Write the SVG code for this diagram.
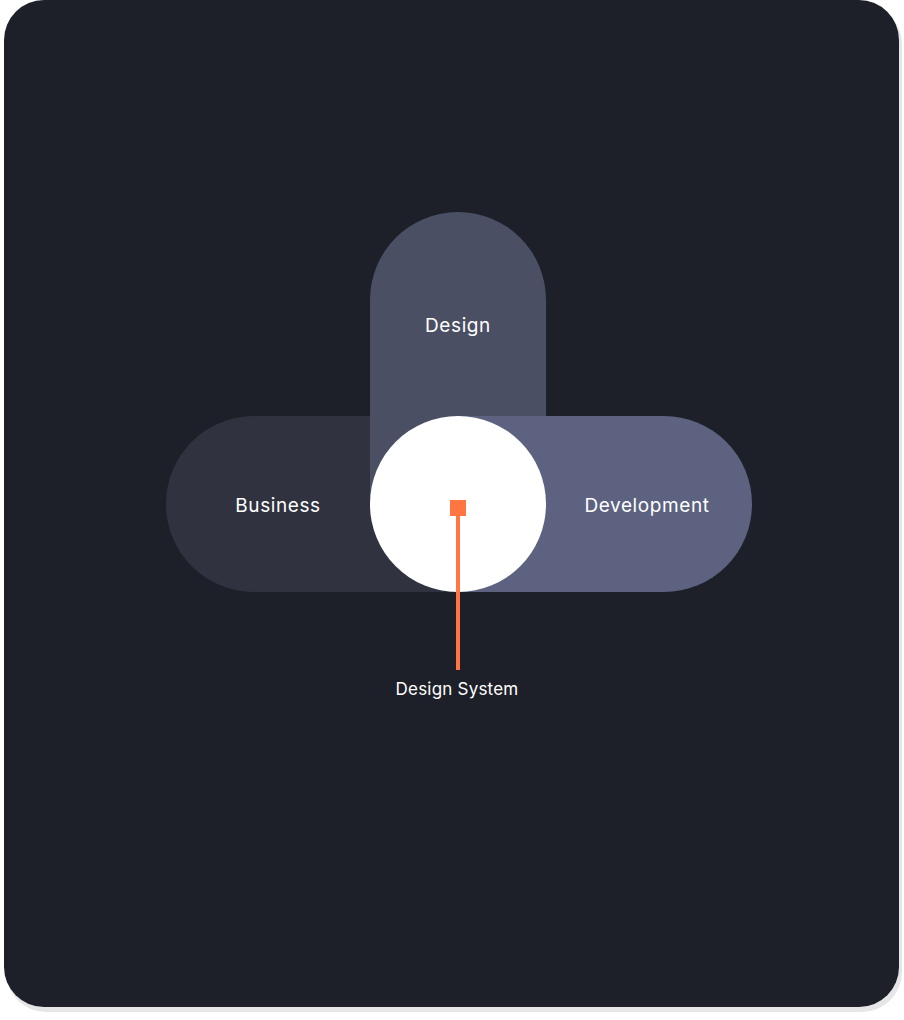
<svg xmlns="http://www.w3.org/2000/svg" width="904" height="1020" viewBox="0 0 904 1020">
<defs>
<style>
.lbl{font-family:Inter,"Liberation Sans",Arial,sans-serif;fill:#ffffff;text-anchor:middle}
.big{font-size:19px;letter-spacing:0.6px}
.small{font-size:17px;letter-spacing:0.2px}
</style>
</defs>
<rect x="0" y="0" width="904" height="1020" fill="#ffffff"/>
<rect x="6" y="4" width="896" height="1008" rx="40" fill="#e6e6e8"/>
<rect x="4" y="0" width="895" height="1007" rx="40" fill="#1e2029"/>
<g id="business">
<rect x="166" y="416" width="380" height="176" rx="88" fill="#30333f"/>
<text class="lbl big" x="278" y="512">Business</text>
</g>
<g id="design">
<rect x="370" y="212" width="176" height="380" rx="88" fill="#4a4f64"/>
<text class="lbl big" x="458" y="332">Design</text>
</g>
<g id="development">
<rect x="370" y="416" width="382" height="176" rx="88" fill="#5c627f"/>
<text class="lbl big" x="647" y="512">Development</text>
</g>
<g id="design-system">
<circle cx="458" cy="504" r="88" fill="#ffffff"/>
<rect x="450" y="500" width="16" height="16" fill="#ff7643"/>
<text class="lbl small" x="457" y="695">Design System</text>
</g>
<g id="connectors">
<line x1="458" y1="514" x2="458" y2="670" stroke="#ff7643" stroke-width="4"/>
</g>
</svg>
